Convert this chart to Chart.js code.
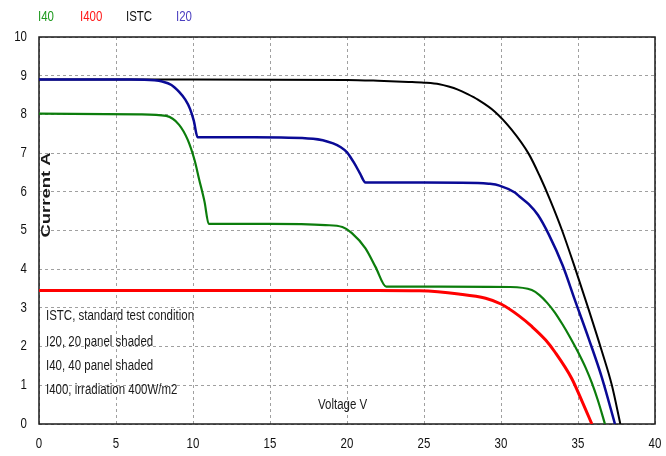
<!DOCTYPE html>
<html>
<head>
<meta charset="utf-8">
<script src="https://cdn.jsdelivr.net/npm/chart.js@4.4.1/dist/chart.umd.min.js"></script>
<style>
  html, body { margin: 0; padding: 0; background: #fff; }
  #wrap { width: 666px; height: 456px; position: relative; }
</style>
</head>
<body>
<div id="wrap"><canvas id="pv"></canvas></div>
<script>
// I-V curves of a PV array: standard test condition, partial shading, low irradiation
const xTicks = [0, 5, 10, 15, 20, 25, 30, 35, 40];
const yTicks = [0, 1, 2, 3, 4, 5, 6, 7, 8, 9, 10];

const voltSTC = [0, 10, 20, 22, 24, 25, 26, 26.6, 27.2, 27.8, 28.5, 29.6, 30.7, 31.8, 32.5, 33.2, 33.95, 34.8, 35.7, 36.55, 37.2, 37.75];
const ampSTC  = [8.9, 8.9, 8.89, 8.87, 8.84, 8.82, 8.78, 8.72, 8.64, 8.53, 8.38, 8.07, 7.6, 6.98, 6.42, 5.78, 5.02, 4.04, 2.95, 1.88, 1.0, 0];

const volt20 = [0, 6, 7.5, 8.0, 8.6, 9.1, 9.5, 9.8, 10.05, 10.3, 14, 17.8, 19.1, 19.6, 20, 20.5, 20.85, 21.2, 25, 28.5, 29.2, 29.9, 30.9, 31.2, 31.8, 32.4, 33.1, 34.0, 34.8, 35.7, 36.55, 37.4];
const amp20  = [8.9, 8.9, 8.88, 8.85, 8.76, 8.58, 8.38, 8.15, 7.84, 7.41, 7.41, 7.37, 7.25, 7.15, 7.02, 6.72, 6.47, 6.24, 6.24, 6.23, 6.21, 6.16, 5.98, 5.88, 5.68, 5.4, 4.9, 4.1, 3.2, 2.2, 1.2, 0];

const volt40 = [0, 6.5, 8.26, 9.1, 9.66, 10.1, 10.4, 10.75, 11.02, 15, 18.6, 19.7, 20.3, 21.2, 21.85, 22.55, 26, 30.6, 32.0, 32.5, 33.0, 33.5, 34.0, 34.5, 35.0, 35.5, 35.9, 36.3, 36.75];
const amp40  = [8.02, 8.0, 7.96, 7.73, 7.34, 6.82, 6.32, 5.74, 5.17, 5.17, 5.14, 5.09, 4.94, 4.54, 4.06, 3.55, 3.55, 3.54, 3.46, 3.33, 3.13, 2.88, 2.57, 2.23, 1.86, 1.45, 1.06, 0.6, 0];

const volt400 = [0, 22, 24.7, 27.25, 29.0, 30.0, 31.15, 32.0, 32.9, 33.5, 34.6, 35.25, 35.9];
const amp400  = [3.45, 3.45, 3.44, 3.36, 3.25, 3.1, 2.8, 2.52, 2.17, 1.86, 1.17, 0.6, 0];

const legendNames  = ['I40', 'I400', 'ISTC', 'I20'];
const legendColors = ['#1f9a1f', '#ff1a1a', '#111111', '#4b3fc0'];
const noteLines = [
  'ISTC, standard test condition',
  'I20, 20 panel shaded',
  'I40, 40 panel shaded',
  'I400, irradiation 400W/m2'
];

const pts = (vs, is) => vs.map((v, k) => ({ x: v, y: is[k] }));
const FONT = "'Liberation Sans', Arial, sans-serif";
const SQUEEZE = 0.82;

// Condensed text: the glyphs are narrowed along the baseline
function narrowText(ctx, text, x, y, align) {
  ctx.save();
  ctx.translate(x, y);
  ctx.scale(SQUEEZE, 1);
  ctx.textAlign = align || 'left';
  ctx.fillText(text, 0, 0);
  ctx.restore();
}

// Frame, tick labels, top legend, in-plot axis titles and the note block
const decorations = {
  id: 'decorations',
  beforeDatasetsDraw(chart) {
    const { ctx, chartArea: a } = chart;
    ctx.save();
    ctx.strokeStyle = '#1a1a1a';
    ctx.lineWidth = 1.5;
    ctx.strokeRect(a.left, a.top, a.right - a.left, a.bottom - a.top);
    ctx.restore();
  },
  afterDraw(chart) {
    const { ctx, chartArea: a } = chart;
    const sx = chart.scales.x, sy = chart.scales.y;
    ctx.save();
    ctx.textBaseline = 'middle';
    ctx.font = "14px " + FONT;
    ctx.fillStyle = '#111';
    xTicks.forEach(v => narrowText(ctx, String(v), sx.getPixelForValue(v), a.bottom + 20, 'center'));
    yTicks.forEach(v => narrowText(ctx, String(v), a.left - 12, sy.getPixelForValue(v), 'right'));

    const lx = [38, 80, 126, 176];
    legendNames.forEach((n, k) => {
      ctx.fillStyle = legendColors[k];
      narrowText(ctx, n, lx[k], 17);
    });

    ctx.fillStyle = '#1a1a1a';
    const ny = [316, 342, 366, 390];
    noteLines.forEach((t, k) => narrowText(ctx, t, 46, ny[k]));
    narrowText(ctx, 'Voltage V', 318, 405);

    ctx.translate(46, 195);
    ctx.rotate(-Math.PI / 2);
    ctx.scale(1.42, 1);
    ctx.textAlign = 'center';
    ctx.font = "bold 13px " + FONT;
    ctx.fillText('Current A', 0, 0);
    ctx.restore();
  }
};

const ds = (label, data, color, width, order) => ({
  label, data, borderColor: color, backgroundColor: color,
  borderWidth: width, pointRadius: 0, fill: false,
  cubicInterpolationMode: 'monotone',
  borderJoinStyle: 'round', order
});

new Chart(document.getElementById('pv'), {
  type: 'line',
  data: {
    datasets: [
      ds('I20', pts(volt20, amp20), '#0a0a96', 2.5, 0),
      ds('I40', pts(volt40, amp40), '#0c7d0c', 2.2, 1),
      ds('I400', pts(volt400, amp400), '#ff0000', 3, 2),
      ds('ISTC', pts(voltSTC, ampSTC), '#000000', 2, 3)
    ]
  },
  options: {
    responsive: true,
    maintainAspectRatio: false,
    animation: false,
    events: [],
    layout: { padding: { top: 37, right: 11, left: 0, bottom: 0 } },
    plugins: { legend: { display: false }, tooltip: { enabled: false } },
    scales: {
      x: {
        type: 'linear', min: 0, max: 40,
        afterFit: s => { s.height = 32; },
        afterBuildTicks: s => { s.ticks = xTicks.map(v => ({ value: v })); },
        ticks: { display: false },
        grid: { color: '#a0a0a0', lineWidth: 1, drawTicks: false },
        border: { display: false, dash: [3, 3] }
      },
      y: {
        type: 'linear', min: 0, max: 10,
        afterFit: s => { s.width = 39; },
        afterBuildTicks: s => { s.ticks = yTicks.map(v => ({ value: v })); },
        ticks: { display: false },
        grid: { color: '#a0a0a0', lineWidth: 1, drawTicks: false },
        border: { display: false, dash: [3, 3] }
      }
    }
  },
  plugins: [decorations]
});
</script>
</body>
</html>
